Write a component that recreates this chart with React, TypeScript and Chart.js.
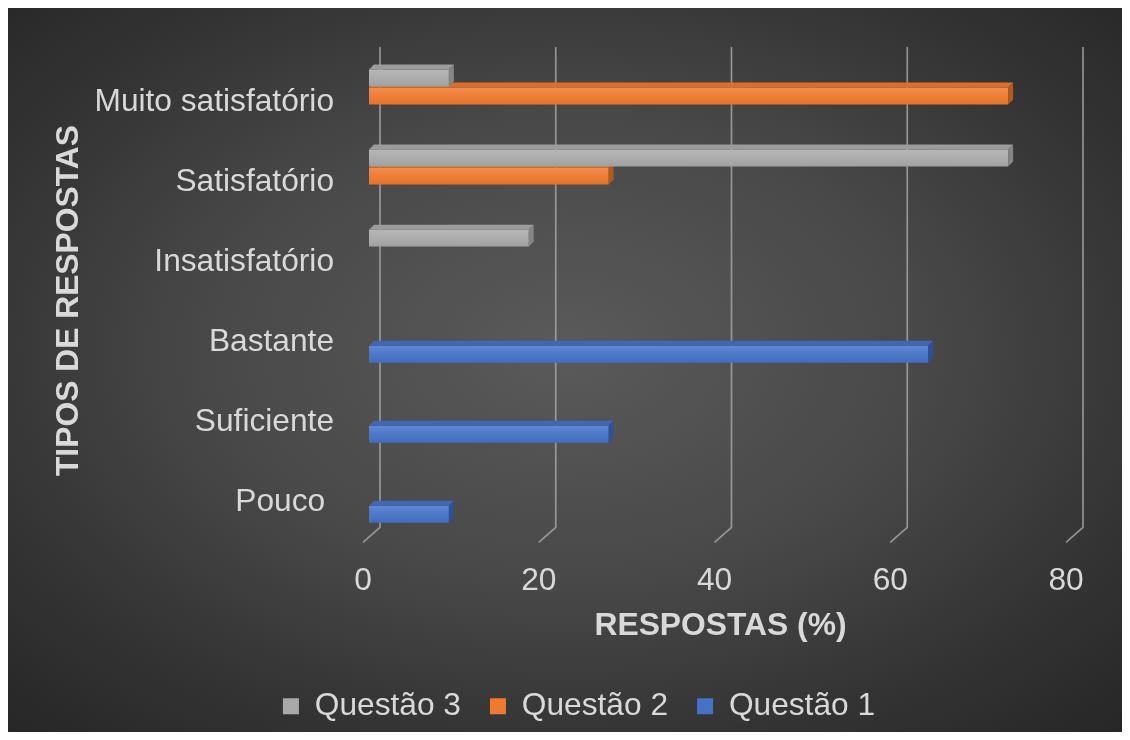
import React, { useEffect, useRef } from "react";
import { Chart, registerables } from "chart.js";

Chart.register(...registerables);

const categories = ["Muito satisfatório", "Satisfatório", "Insatisfatório", "Bastante", "Suficiente", "Pouco "];
const seriesNames = ["Questão 3", "Questão 2", "Questão 1"];
const questao3 = [9.09, 72.73, 18.18, null, null, null];
const questao2 = [72.73, 27.27, null, null, null, null];
const questao1 = [null, null, null, 63.64, 27.27, 9.09];
const xTickValues = [0, 20, 40, 60, 80];

const FONT = "'Liberation Sans', Arial, sans-serif";
const TEXT = "#d9d9d9";
const FS = 31.7;

const frontColors = ["#a9a9a9", "#ee7a30", "#4672c8"];
const topColors = ["#9c9c9c", "#d8702c", "#4166b5"];
const sideColors = ["#858585", "#b05a1e", "#2f4f96"];

const backgroundPlugin = {
  id: "bg",
  beforeDraw(chart: any) {
    const { ctx, width, height } = chart;
    ctx.save();
    const sx = width / height;
    ctx.translate(width / 2, height / 2);
    ctx.scale(sx, 1);
    const r = height * 0.72;
    const g = ctx.createRadialGradient(0, -20, 0, 0, -20, r);
    g.addColorStop(0, "#5a5a5a");
    g.addColorStop(0.45, "#484848");
    g.addColorStop(0.75, "#343434");
    g.addColorStop(1, "#272727");
    ctx.fillStyle = g;
    ctx.fillRect(-width, -height, width * 2, height * 2);
    ctx.restore();
  },
};

const gridPlugin = {
  id: "grid3d",
  beforeDatasetsDraw(chart: any) {
    const { ctx, chartArea } = chart;
    const xs = chart.scales.x;
    ctx.save();
    ctx.strokeStyle = "rgba(170,170,170,0.8)";
    ctx.lineWidth = 1.7;
    xTickValues.forEach((v) => {
      const px = xs.getPixelForValue(v);
      const bx = px + 11;
      ctx.beginPath();
      ctx.moveTo(bx, chartArea.top - 9);
      ctx.lineTo(bx, chartArea.bottom - 9);
      ctx.lineTo(px - 6, chartArea.bottom + 6);
      ctx.stroke();
    });
    ctx.restore();
  },
};

const bar3dPlugin = {
  id: "bar3d",
  afterDatasetDraw(chart: any, args: any) {
    const { ctx } = chart;
    const meta = args.meta;
    const i = args.index;
    const d = 5;
    ctx.save();
    meta.data.forEach((el: any) => {
      const p = el.getProps(["x", "y", "base", "height"], true);
      if (!isFinite(p.x) || !isFinite(p.y)) return;
      const top = p.y - p.height / 2;
      const bottom = p.y + p.height / 2;
      const left = p.base;
      const right = p.x;
      if (right - left < 0.5) return;
      const g = ctx.createLinearGradient(0, top, 0, bottom);
      g.addColorStop(0, "rgba(255,255,255,0.16)");
      g.addColorStop(0.5, "rgba(255,255,255,0.03)");
      g.addColorStop(1, "rgba(0,0,0,0.06)");
      ctx.fillStyle = g;
      ctx.fillRect(left, top, right - left, bottom - top);
      ctx.fillStyle = topColors[i];
      ctx.beginPath();
      ctx.moveTo(left, top);
      ctx.lineTo(left + d, top - d);
      ctx.lineTo(right + d, top - d);
      ctx.lineTo(right, top);
      ctx.closePath();
      ctx.fill();
      ctx.fillStyle = sideColors[i];
      ctx.beginPath();
      ctx.moveTo(right, top);
      ctx.lineTo(right + d, top - d);
      ctx.lineTo(right + d, bottom - d);
      ctx.lineTo(right, bottom);
      ctx.closePath();
      ctx.fill();
    });
    ctx.restore();
  },
};

export default function App() {
  const ref = useRef<HTMLCanvasElement | null>(null);

  useEffect(() => {
    if (!ref.current) return;
    const seriesData = [questao3, questao2, questao1];
    const chart = new Chart(ref.current, {
      type: "bar",
      data: {
        labels: categories,
        datasets: seriesNames.map((name, i) => ({
          label: name,
          data: seriesData[i],
          backgroundColor: frontColors[i],
          borderWidth: 0,
          categoryPercentage: 0.675,
          barPercentage: 0.94,
        })),
      },
      options: {
        indexAxis: "y",
        animation: false,
        responsive: true,
        maintainAspectRatio: false,
        layout: { padding: { left: 28, right: 0, top: 48, bottom: 0 } },
        font: { family: FONT },
        plugins: {
          tooltip: { enabled: false },
          legend: {
            position: "bottom",
            labels: {
              color: TEXT,
              font: { family: FONT, size: FS },
              boxWidth: 16,
              boxHeight: 16,
              padding: 29,
            },
          },
        },
        scales: {
          x: {
            type: "linear",
            min: 0,
            max: 80,
            afterBuildTicks: (s: any) => {
              s.ticks = xTickValues.map((v) => ({ value: v }));
            },
            grid: { display: false, drawTicks: false },
            border: { display: false },
            ticks: {
              color: TEXT,
              font: { family: FONT, size: FS },
              padding: 26,
              labelOffset: -6,
              maxRotation: 0,
            },
            title: {
              display: true,
              text: "RESPOSTAS (%)",
              color: TEXT,
              font: { family: FONT, size: 31.8, weight: "bold" },
              padding: { top: 0, bottom: 16 },
            },
            afterFit: (s: any) => {
              s.height = 125;
              s.paddingLeft = 0;
              s.paddingRight = 0;
            },
          },
          y: {
            type: "category",
            grid: { display: false, drawTicks: false },
            border: { display: false },
            ticks: {
              color: TEXT,
              font: { family: FONT, size: FS },
              padding: 35,
              labelOffset: 6,
            },
            title: {
              display: true,
              text: "TIPOS DE RESPOSTAS ",
              color: TEXT,
              font: { family: FONT, size: 31.8, weight: "bold" },
              padding: { top: 14, bottom: 0 },
            },
            afterFit: (s: any) => {
              s.width = 333;
              s.paddingTop = 0;
              s.paddingBottom = 0;
            },
          },
          y2: {
            type: "linear",
            position: "right",
            display: true,
            grid: { display: false, drawTicks: false },
            border: { display: false },
            ticks: { display: false },
            afterFit: (s: any) => {
              s.width = 50;
              s.paddingTop = 0;
              s.paddingBottom = 0;
            },
          },
        },
      } as any,
      plugins: [backgroundPlugin, gridPlugin, bar3dPlugin],
    });
    return () => chart.destroy();
  }, []);

  return (
    <div style={{ width: 1114, height: 724, position: "relative" }}>
      <canvas ref={ref} />
    </div>
  );
}
